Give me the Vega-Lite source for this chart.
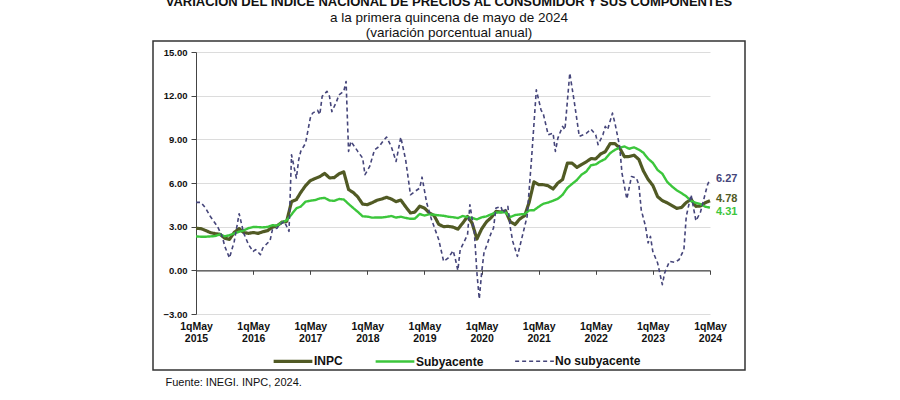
{
  "$schema": "https://vega.github.io/schema/vega-lite/v6.json",
  "width": 592,
  "height": 329,
  "autosize": {"type": "none"},
  "padding": {"left": 153, "top": 41, "right": 155, "bottom": 30},
  "background": "white",
  "config": {
    "font": "Liberation Sans",
    "view": {"stroke": "#333333", "strokeWidth": 1.5},
    "legend": {"padding": 0}
  },
  "title": {
    "text": "VARIACIÓN DEL ÍNDICE NACIONAL DE PRECIOS AL CONSUMIDOR Y SUS COMPONENTES",
    "subtitle": ["a la primera quincena de mayo de 2024", "(variación porcentual anual)"],
    "anchor": "middle",
    "font": "Liberation Sans",
    "fontSize": 13,
    "fontWeight": "bold",
    "color": "#111111",
    "subtitleFont": "Liberation Sans",
    "subtitleFontSize": 13.5,
    "subtitleColor": "#111111",
    "subtitleLineHeight": 15,
    "subtitlePadding": 2,
    "offset": 2
  },
  "datasets": {
    "m": [
      {"d": "2015-05-01", "INPC": 2.88, "Subyacente": 2.33},
      {"d": "2015-06-01", "INPC": 2.87, "Subyacente": 2.31},
      {"d": "2015-07-01", "INPC": 2.74, "Subyacente": 2.31},
      {"d": "2015-08-01", "INPC": 2.59, "Subyacente": 2.33},
      {"d": "2015-09-01", "INPC": 2.52, "Subyacente": 2.36},
      {"d": "2015-10-01", "INPC": 2.48, "Subyacente": 2.47},
      {"d": "2015-11-01", "INPC": 2.21, "Subyacente": 2.34},
      {"d": "2015-12-01", "INPC": 2.13, "Subyacente": 2.41},
      {"d": "2016-01-01", "INPC": 2.61, "Subyacente": 2.54},
      {"d": "2016-02-01", "INPC": 2.87, "Subyacente": 2.65},
      {"d": "2016-03-01", "INPC": 2.60, "Subyacente": 2.74},
      {"d": "2016-04-01", "INPC": 2.54, "Subyacente": 2.90},
      {"d": "2016-05-01", "INPC": 2.60, "Subyacente": 2.98},
      {"d": "2016-06-01", "INPC": 2.54, "Subyacente": 2.97},
      {"d": "2016-07-01", "INPC": 2.65, "Subyacente": 2.95},
      {"d": "2016-08-01", "INPC": 2.73, "Subyacente": 2.98},
      {"d": "2016-09-01", "INPC": 2.97, "Subyacente": 3.10},
      {"d": "2016-10-01", "INPC": 3.06, "Subyacente": 3.07},
      {"d": "2016-11-01", "INPC": 3.31, "Subyacente": 3.29},
      {"d": "2016-12-01", "INPC": 3.36, "Subyacente": 3.44},
      {"d": "2017-01-01", "INPC": 4.72, "Subyacente": 3.84},
      {"d": "2017-02-01", "INPC": 4.86, "Subyacente": 4.26},
      {"d": "2017-03-01", "INPC": 5.35, "Subyacente": 4.38},
      {"d": "2017-04-01", "INPC": 5.82, "Subyacente": 4.72},
      {"d": "2017-05-01", "INPC": 6.16, "Subyacente": 4.78},
      {"d": "2017-06-01", "INPC": 6.31, "Subyacente": 4.83},
      {"d": "2017-07-01", "INPC": 6.44, "Subyacente": 4.94},
      {"d": "2017-08-01", "INPC": 6.66, "Subyacente": 4.98},
      {"d": "2017-09-01", "INPC": 6.35, "Subyacente": 4.80},
      {"d": "2017-10-01", "INPC": 6.37, "Subyacente": 4.77},
      {"d": "2017-11-01", "INPC": 6.63, "Subyacente": 4.90},
      {"d": "2017-12-01", "INPC": 6.77, "Subyacente": 4.87},
      {"d": "2018-01-01", "INPC": 5.55, "Subyacente": 4.56},
      {"d": "2018-02-01", "INPC": 5.34, "Subyacente": 4.27},
      {"d": "2018-03-01", "INPC": 5.04, "Subyacente": 4.02},
      {"d": "2018-04-01", "INPC": 4.55, "Subyacente": 3.71},
      {"d": "2018-05-01", "INPC": 4.51, "Subyacente": 3.69},
      {"d": "2018-06-01", "INPC": 4.65, "Subyacente": 3.62},
      {"d": "2018-07-01", "INPC": 4.81, "Subyacente": 3.63},
      {"d": "2018-08-01", "INPC": 4.90, "Subyacente": 3.63},
      {"d": "2018-09-01", "INPC": 5.02, "Subyacente": 3.67},
      {"d": "2018-10-01", "INPC": 4.90, "Subyacente": 3.73},
      {"d": "2018-11-01", "INPC": 4.72, "Subyacente": 3.63},
      {"d": "2018-12-01", "INPC": 4.83, "Subyacente": 3.68},
      {"d": "2019-01-01", "INPC": 4.37, "Subyacente": 3.60},
      {"d": "2019-02-01", "INPC": 3.94, "Subyacente": 3.54},
      {"d": "2019-03-01", "INPC": 4.00, "Subyacente": 3.55},
      {"d": "2019-04-01", "INPC": 4.41, "Subyacente": 3.87},
      {"d": "2019-05-01", "INPC": 4.28, "Subyacente": 3.77},
      {"d": "2019-06-01", "INPC": 3.95, "Subyacente": 3.85},
      {"d": "2019-07-01", "INPC": 3.78, "Subyacente": 3.82},
      {"d": "2019-08-01", "INPC": 3.16, "Subyacente": 3.78},
      {"d": "2019-09-01", "INPC": 3.00, "Subyacente": 3.75},
      {"d": "2019-10-01", "INPC": 3.02, "Subyacente": 3.68},
      {"d": "2019-11-01", "INPC": 2.97, "Subyacente": 3.65},
      {"d": "2019-12-01", "INPC": 2.83, "Subyacente": 3.59},
      {"d": "2020-01-01", "INPC": 3.24, "Subyacente": 3.73},
      {"d": "2020-02-01", "INPC": 3.70, "Subyacente": 3.66},
      {"d": "2020-03-01", "INPC": 3.25, "Subyacente": 3.60},
      {"d": "2020-04-01", "INPC": 2.15, "Subyacente": 3.50},
      {"d": "2020-05-01", "INPC": 2.84, "Subyacente": 3.64},
      {"d": "2020-06-01", "INPC": 3.33, "Subyacente": 3.71},
      {"d": "2020-07-01", "INPC": 3.62, "Subyacente": 3.85},
      {"d": "2020-08-01", "INPC": 4.05, "Subyacente": 3.97},
      {"d": "2020-09-01", "INPC": 4.01, "Subyacente": 3.99},
      {"d": "2020-10-01", "INPC": 4.09, "Subyacente": 3.98},
      {"d": "2020-11-01", "INPC": 3.33, "Subyacente": 3.66},
      {"d": "2020-12-01", "INPC": 3.15, "Subyacente": 3.80},
      {"d": "2021-01-01", "INPC": 3.54, "Subyacente": 3.84},
      {"d": "2021-02-01", "INPC": 3.76, "Subyacente": 3.87},
      {"d": "2021-03-01", "INPC": 4.67, "Subyacente": 4.12},
      {"d": "2021-04-01", "INPC": 6.08, "Subyacente": 4.13},
      {"d": "2021-05-01", "INPC": 5.89, "Subyacente": 4.37},
      {"d": "2021-06-01", "INPC": 5.88, "Subyacente": 4.58},
      {"d": "2021-07-01", "INPC": 5.81, "Subyacente": 4.66},
      {"d": "2021-08-01", "INPC": 5.59, "Subyacente": 4.78},
      {"d": "2021-09-01", "INPC": 6.00, "Subyacente": 4.92},
      {"d": "2021-10-01", "INPC": 6.24, "Subyacente": 5.19},
      {"d": "2021-11-01", "INPC": 7.37, "Subyacente": 5.67},
      {"d": "2021-12-01", "INPC": 7.36, "Subyacente": 5.94},
      {"d": "2022-01-01", "INPC": 7.07, "Subyacente": 6.21},
      {"d": "2022-02-01", "INPC": 7.28, "Subyacente": 6.59},
      {"d": "2022-03-01", "INPC": 7.45, "Subyacente": 6.78},
      {"d": "2022-04-01", "INPC": 7.68, "Subyacente": 7.22},
      {"d": "2022-05-01", "INPC": 7.65, "Subyacente": 7.28},
      {"d": "2022-06-01", "INPC": 7.99, "Subyacente": 7.49},
      {"d": "2022-07-01", "INPC": 8.15, "Subyacente": 7.65},
      {"d": "2022-08-01", "INPC": 8.70, "Subyacente": 8.05},
      {"d": "2022-09-01", "INPC": 8.70, "Subyacente": 8.28},
      {"d": "2022-10-01", "INPC": 8.41, "Subyacente": 8.42},
      {"d": "2022-11-01", "INPC": 7.80, "Subyacente": 8.51},
      {"d": "2022-12-01", "INPC": 7.82, "Subyacente": 8.35},
      {"d": "2023-01-01", "INPC": 7.91, "Subyacente": 8.45},
      {"d": "2023-02-01", "INPC": 7.62, "Subyacente": 8.29},
      {"d": "2023-03-01", "INPC": 6.85, "Subyacente": 8.09},
      {"d": "2023-04-01", "INPC": 6.25, "Subyacente": 7.67},
      {"d": "2023-05-01", "INPC": 5.84, "Subyacente": 7.39},
      {"d": "2023-06-01", "INPC": 5.06, "Subyacente": 6.89},
      {"d": "2023-07-01", "INPC": 4.79, "Subyacente": 6.64},
      {"d": "2023-08-01", "INPC": 4.64, "Subyacente": 6.08},
      {"d": "2023-09-01", "INPC": 4.45, "Subyacente": 5.76},
      {"d": "2023-10-01", "INPC": 4.26, "Subyacente": 5.50},
      {"d": "2023-11-01", "INPC": 4.32, "Subyacente": 5.30},
      {"d": "2023-12-01", "INPC": 4.66, "Subyacente": 5.09},
      {"d": "2024-01-01", "INPC": 4.88, "Subyacente": 4.76},
      {"d": "2024-02-01", "INPC": 4.40, "Subyacente": 4.64},
      {"d": "2024-03-01", "INPC": 4.42, "Subyacente": 4.55},
      {"d": "2024-04-01", "INPC": 4.65, "Subyacente": 4.37},
      {"d": "2024-05-01", "INPC": 4.78, "Subyacente": 4.31}
    ],
    "n": [
      {"d": "2015-05-01", "No subyacente": 4.67},
      {"d": "2015-06-01", "No subyacente": 4.67},
      {"d": "2015-07-01", "No subyacente": 4.28},
      {"d": "2015-08-01", "No subyacente": 3.7},
      {"d": "2015-09-16", "No subyacente": 3.0},
      {"d": "2015-10-16", "No subyacente": 2.33},
      {"d": "2015-11-01", "No subyacente": 1.65},
      {"d": "2015-12-01", "No subyacente": 0.85},
      {"d": "2016-01-01", "No subyacente": 2.0},
      {"d": "2016-02-01", "No subyacente": 3.89},
      {"d": "2016-03-01", "No subyacente": 2.56},
      {"d": "2016-04-01", "No subyacente": 1.76},
      {"d": "2016-05-01", "No subyacente": 1.3},
      {"d": "2016-05-16", "No subyacente": 1.42},
      {"d": "2016-06-16", "No subyacente": 1.08},
      {"d": "2016-07-01", "No subyacente": 1.53},
      {"d": "2016-08-01", "No subyacente": 1.88},
      {"d": "2016-08-16", "No subyacente": 2.0},
      {"d": "2016-09-01", "No subyacente": 2.8},
      {"d": "2016-10-01", "No subyacente": 2.9},
      {"d": "2016-10-16", "No subyacente": 3.13},
      {"d": "2016-11-16", "No subyacente": 3.36},
      {"d": "2016-12-16", "No subyacente": 2.68},
      {"d": "2017-01-01", "No subyacente": 7.94},
      {"d": "2017-02-01", "No subyacente": 6.34},
      {"d": "2017-02-16", "No subyacente": 7.6},
      {"d": "2017-03-01", "No subyacente": 8.17},
      {"d": "2017-04-01", "No subyacente": 8.74},
      {"d": "2017-05-01", "No subyacente": 10.46},
      {"d": "2017-05-16", "No subyacente": 10.8},
      {"d": "2017-06-16", "No subyacente": 11.0},
      {"d": "2017-07-01", "No subyacente": 10.7},
      {"d": "2017-07-16", "No subyacente": 11.95},
      {"d": "2017-08-16", "No subyacente": 12.3},
      {"d": "2017-09-01", "No subyacente": 11.95},
      {"d": "2017-09-16", "No subyacente": 10.9},
      {"d": "2017-10-16", "No subyacente": 11.6},
      {"d": "2017-11-01", "No subyacente": 12.06},
      {"d": "2017-12-01", "No subyacente": 12.29},
      {"d": "2017-12-16", "No subyacente": 12.97},
      {"d": "2018-01-01", "No subyacente": 8.17},
      {"d": "2018-01-16", "No subyacente": 8.86},
      {"d": "2018-03-01", "No subyacente": 8.17},
      {"d": "2018-04-01", "No subyacente": 7.71},
      {"d": "2018-04-16", "No subyacente": 6.57},
      {"d": "2018-05-16", "No subyacente": 7.14},
      {"d": "2018-06-16", "No subyacente": 8.28},
      {"d": "2018-07-16", "No subyacente": 8.51},
      {"d": "2018-08-16", "No subyacente": 8.97},
      {"d": "2018-09-01", "No subyacente": 9.15},
      {"d": "2018-10-01", "No subyacente": 8.51},
      {"d": "2018-11-01", "No subyacente": 7.48},
      {"d": "2018-12-01", "No subyacente": 9.15},
      {"d": "2019-01-01", "No subyacente": 7.6},
      {"d": "2019-02-01", "No subyacente": 5.19},
      {"d": "2019-03-01", "No subyacente": 5.42},
      {"d": "2019-04-01", "No subyacente": 5.65},
      {"d": "2019-04-16", "No subyacente": 6.4},
      {"d": "2019-05-16", "No subyacente": 4.62},
      {"d": "2019-06-16", "No subyacente": 3.48},
      {"d": "2019-08-01", "No subyacente": 2.1},
      {"d": "2019-09-01", "No subyacente": 0.62},
      {"d": "2019-10-01", "No subyacente": 0.85},
      {"d": "2019-11-01", "No subyacente": 1.35},
      {"d": "2019-11-16", "No subyacente": 0.73},
      {"d": "2019-12-01", "No subyacente": 0.0},
      {"d": "2019-12-16", "No subyacente": 1.42},
      {"d": "2020-01-01", "No subyacente": 1.76},
      {"d": "2020-02-01", "No subyacente": 2.45},
      {"d": "2020-02-16", "No subyacente": 4.51},
      {"d": "2020-03-16", "No subyacente": 2.56},
      {"d": "2020-04-01", "No subyacente": -0.18},
      {"d": "2020-04-16", "No subyacente": -1.97},
      {"d": "2020-05-01", "No subyacente": -0.18},
      {"d": "2020-05-16", "No subyacente": 1.19},
      {"d": "2020-07-01", "No subyacente": 2.56},
      {"d": "2020-07-16", "No subyacente": 2.9},
      {"d": "2020-08-01", "No subyacente": 4.28},
      {"d": "2020-09-01", "No subyacente": 4.39},
      {"d": "2020-09-16", "No subyacente": 3.94},
      {"d": "2020-10-16", "No subyacente": 4.39},
      {"d": "2020-11-01", "No subyacente": 2.9},
      {"d": "2020-11-16", "No subyacente": 2.0},
      {"d": "2020-12-16", "No subyacente": 0.96},
      {"d": "2021-01-16", "No subyacente": 2.33},
      {"d": "2021-02-16", "No subyacente": 3.7},
      {"d": "2021-03-16", "No subyacente": 7.6},
      {"d": "2021-04-16", "No subyacente": 12.4},
      {"d": "2021-05-16", "No subyacente": 11.03},
      {"d": "2021-06-01", "No subyacente": 10.69},
      {"d": "2021-07-01", "No subyacente": 9.31},
      {"d": "2021-08-01", "No subyacente": 9.43},
      {"d": "2021-08-16", "No subyacente": 8.17},
      {"d": "2021-09-01", "No subyacente": 9.08},
      {"d": "2021-10-01", "No subyacente": 9.89},
      {"d": "2021-10-16", "No subyacente": 9.66},
      {"d": "2021-11-16", "No subyacente": 13.55},
      {"d": "2021-12-16", "No subyacente": 11.49},
      {"d": "2022-01-16", "No subyacente": 9.2},
      {"d": "2022-03-01", "No subyacente": 9.4},
      {"d": "2022-04-01", "No subyacente": 9.7},
      {"d": "2022-05-01", "No subyacente": 9.31},
      {"d": "2022-05-16", "No subyacente": 8.63},
      {"d": "2022-06-16", "No subyacente": 9.31},
      {"d": "2022-07-01", "No subyacente": 9.89},
      {"d": "2022-07-16", "No subyacente": 9.66},
      {"d": "2022-08-16", "No subyacente": 10.8},
      {"d": "2022-09-01", "No subyacente": 10.11},
      {"d": "2022-10-01", "No subyacente": 8.51},
      {"d": "2022-10-16", "No subyacente": 6.68},
      {"d": "2022-11-16", "No subyacente": 4.9},
      {"d": "2022-12-16", "No subyacente": 6.45},
      {"d": "2023-01-16", "No subyacente": 6.34},
      {"d": "2023-02-01", "No subyacente": 5.88},
      {"d": "2023-02-16", "No subyacente": 4.16},
      {"d": "2023-03-16", "No subyacente": 3.0},
      {"d": "2023-04-01", "No subyacente": 1.88},
      {"d": "2023-04-16", "No subyacente": 2.33},
      {"d": "2023-05-01", "No subyacente": 1.3},
      {"d": "2023-06-01", "No subyacente": 0.5},
      {"d": "2023-07-01", "No subyacente": -0.98},
      {"d": "2023-07-16", "No subyacente": -0.18},
      {"d": "2023-08-16", "No subyacente": 0.62},
      {"d": "2023-09-16", "No subyacente": 0.55},
      {"d": "2023-10-16", "No subyacente": 0.73},
      {"d": "2023-11-16", "No subyacente": 1.42},
      {"d": "2023-12-01", "No subyacente": 3.7},
      {"d": "2024-01-01", "No subyacente": 5.19},
      {"d": "2024-02-01", "No subyacente": 3.4},
      {"d": "2024-03-01", "No subyacente": 4.0},
      {"d": "2024-03-16", "No subyacente": 4.6},
      {"d": "2024-04-01", "No subyacente": 5.3},
      {"d": "2024-04-16", "No subyacente": 5.9},
      {"d": "2024-05-01", "No subyacente": 6.27}
    ]
  },
  "encoding": {
    "x": {
      "field": "d",
      "type": "temporal",
      "scale": {
        "type": "utc",
        "domain": [{"year": 2015, "month": 5, "date": 1, "utc": true}, {"year": 2024, "month": 5, "date": 1, "utc": true}],
        "range": [43, 557]
      },
      "axis": {
        "values": [
          {"year": 2015, "month": 5, "date": 1, "utc": true},
          {"year": 2016, "month": 5, "date": 1, "utc": true},
          {"year": 2017, "month": 5, "date": 1, "utc": true},
          {"year": 2018, "month": 5, "date": 1, "utc": true},
          {"year": 2019, "month": 5, "date": 1, "utc": true},
          {"year": 2020, "month": 5, "date": 1, "utc": true},
          {"year": 2021, "month": 5, "date": 1, "utc": true},
          {"year": 2022, "month": 5, "date": 1, "utc": true},
          {"year": 2023, "month": 5, "date": 1, "utc": true},
          {"year": 2024, "month": 5, "date": 1, "utc": true}
        ],
        "offset": -99.7,
        "grid": false,
        "domainColor": "#444444",
        "domainWidth": 1.2,
        "tickColor": "#444444",
        "tickSize": 4,
        "labelExpr": "['1qMay', utcFormat(datum.value, '%Y')]",
        "labelFontSize": 10.5,
        "labelFontWeight": "bold",
        "labelColor": "#111111",
        "labelPadding": 47,
        "labelLineHeight": 12,
        "labelFlush": false,
        "labelOverlap": false,
        "labelBound": false,
        "title": "Fuente: INEGI. INPC, 2024.",
        "titleX": 12,
        "titleY": 111.7,
        "titleAlign": "left",
        "titleBaseline": "middle",
        "titleFontSize": 11,
        "titleFontWeight": "normal",
        "titleColor": "#111111"
      }
    },
    "y": {
      "field": "v",
      "type": "quantitative",
      "scale": {"domain": [-3, 15], "range": [273, 11], "nice": false, "zero": false},
      "axis": {
        "values": [-3, 0, 3, 6, 9, 12, 15],
        "format": ".2f",
        "offset": -43,
        "domainColor": "#444444",
        "tickColor": "#444444",
        "tickSize": 5,
        "grid": true,
        "gridColor": "#dcdcdc",
        "labelFontSize": 9.5,
        "labelFontWeight": "bold",
        "labelColor": "#111111",
        "labelPadding": 4,
        "title": null
      }
    }
  },
  "layer": [
    {
      "data": {"name": "m"},
      "transform": [{"fold": ["INPC", "Subyacente"], "as": ["s", "v"]}],
      "mark": {"type": "line", "strokeJoin": "round"},
      "encoding": {
        "color": {
          "field": "s", "type": "nominal",
          "scale": {"domain": ["INPC", "Subyacente", "No subyacente"], "range": ["#515a24", "#3cc63c", "#45457a"]},
          "legend": {"title": null, "orient": "none", "legendX": 119, "legendY": 299, "direction": "horizontal", "symbolType": "stroke", "symbolSize": 1500, "labelFontSize": 12, "labelFontWeight": "bold", "labelColor": "#111111", "columnPadding": 27, "labelOffset": 0}
        },
        "strokeDash": {
          "field": "s", "type": "nominal",
          "scale": {"domain": ["INPC", "Subyacente", "No subyacente"], "range": [[1, 0], [1, 0], [4, 3]]},
          "legend": {"title": null, "orient": "none", "legendX": 119, "legendY": 299, "direction": "horizontal", "symbolType": "stroke", "symbolSize": 1500, "labelFontSize": 12, "labelFontWeight": "bold", "labelColor": "#111111", "columnPadding": 27, "labelOffset": 0}
        },
        "strokeWidth": {
          "field": "s", "type": "nominal",
          "scale": {"domain": ["INPC", "Subyacente", "No subyacente"], "range": [3.2, 1.6, 1.2]},
          "legend": {"title": null, "orient": "none", "legendX": 119, "legendY": 299, "direction": "horizontal", "symbolType": "stroke", "symbolSize": 1500, "labelFontSize": 12, "labelFontWeight": "bold", "labelColor": "#111111", "columnPadding": 27, "labelOffset": 0}
        }
      }
    },
    {
      "data": {"name": "n"},
      "transform": [{"fold": ["No subyacente"], "as": ["s", "v"]}],
      "mark": {"type": "line", "strokeJoin": "round"},
      "encoding": {
        "color": {"field": "s", "type": "nominal"},
        "strokeDash": {"field": "s", "type": "nominal"},
        "strokeWidth": {"field": "s", "type": "nominal"}
      }
    },
    {
      "data": {"name": "m"},
      "transform": [
        {"filter": "utcyear(datum.d) == 2024 && utcmonth(datum.d) == 4"},
        {"fold": ["INPC"], "as": ["s", "v"]}
      ],
      "mark": {"type": "text", "align": "left", "dx": 6, "dy": -2, "fontSize": 11, "fontWeight": "bold", "color": "#515a24"},
      "encoding": {"text": {"field": "v", "type": "quantitative", "format": ".2f"}}
    },
    {
      "data": {"name": "m"},
      "transform": [
        {"filter": "utcyear(datum.d) == 2024 && utcmonth(datum.d) == 4"},
        {"fold": ["Subyacente"], "as": ["s", "v"]}
      ],
      "mark": {"type": "text", "align": "left", "dx": 6, "dy": 4, "fontSize": 11, "fontWeight": "bold", "color": "#3cc63c"},
      "encoding": {"text": {"field": "v", "type": "quantitative", "format": ".2f"}}
    },
    {
      "data": {"name": "n"},
      "transform": [
        {"filter": "utcyear(datum.d) == 2024 && utcmonth(datum.d) == 4 && utcdate(datum.d) == 1"},
        {"fold": ["No subyacente"], "as": ["s", "v"]}
      ],
      "mark": {"type": "text", "align": "left", "dx": 6, "dy": 0, "fontSize": 11, "fontWeight": "bold", "color": "#45457a"},
      "encoding": {"text": {"field": "v", "type": "quantitative", "format": ".2f"}}
    }
  ]
}
